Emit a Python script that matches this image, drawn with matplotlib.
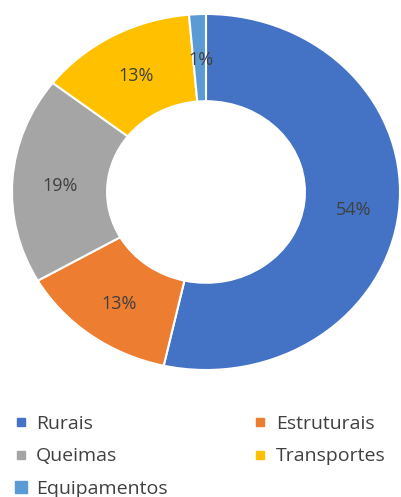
import matplotlib
matplotlib.use("Agg")
import matplotlib.pyplot as plt
import matplotlib.transforms as mtransforms
from matplotlib.lines import Line2D

categories = ["Rurais", "Estruturais", "Queimas", "Transportes", "Equipamentos"]
shares = [53.5, 13.2, 18.8, 13.1, 1.4]
colors = ["#4472C4", "#ED7D31", "#A5A5A5", "#FFC000", "#5B9BD5"]

W, H = 401, 497
fig = plt.figure(figsize=(W / 100, H / 100), dpi=100)
fig.patch.set_facecolor("white")

# donut is slightly stretched horizontally in the original
cx, cy, rx, ry = 206, 192, 194, 178
ax = fig.add_axes([(cx - rx) / W, (H - cy - ry) / H, 2 * rx / W, 2 * ry / H])
wedges, texts, autotexts = ax.pie(
    shares, colors=colors, startangle=90, counterclock=False,
    radius=1.0, autopct="%.0f%%", pctdistance=0.76,
    wedgeprops=dict(width=0.49, edgecolor="white", linewidth=1.5),
    textprops=dict(color="#404040", fontsize=13, family="Open Sans"))
for w in wedges:
    w.set_clip_on(False)
shift = mtransforms.ScaledTranslation(1 / 100, -3 / 100, fig.dpi_scale_trans)
for t in autotexts:
    t.set_transform(t.get_transform() + shift)
ax.set_aspect("auto")
ax.set_xlim(-1, 1)
ax.set_ylim(-1, 1)
ax.axis("off")

order = [0, 2, 4, 1, 3]
handles = [Line2D([], [], ls="", marker="s", markersize=6 if i != 4 else 8,
                  color=colors[i]) for i in order]
leg = fig.legend(handles, [categories[i] for i in order], ncol=2,
                 loc="upper left", bbox_to_anchor=(0.01, 0.184),
                 frameon=False, handlelength=0.7, handletextpad=0.45,
                 columnspacing=4.4, labelspacing=0.73, borderpad=0,
                 prop=dict(family="Open Sans", size=14))
for t in leg.get_texts():
    t.set_color("#404040")

fig.savefig("out.png", dpi=100)
